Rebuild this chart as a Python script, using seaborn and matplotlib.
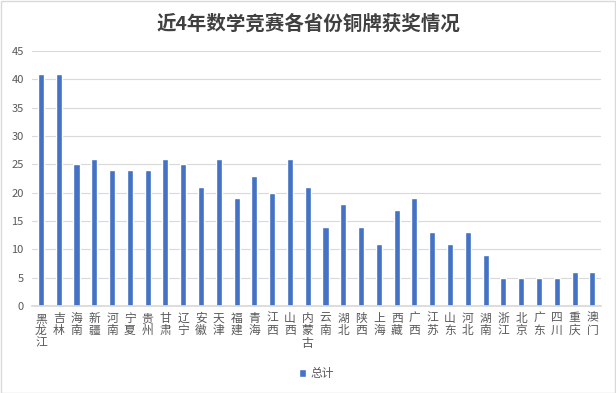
import matplotlib
matplotlib.use("Agg")
import matplotlib.pyplot as plt
import seaborn as sns
import pandas as pd

provinces = ["黑龙江", "吉林", "海南", "新疆", "河南", "宁夏", "贵州", "甘肃", "辽宁", "安徽",
             "天津", "福建", "青海", "江西", "山西", "内蒙古", "云南", "湖北", "陕西", "上海",
             "西藏", "广西", "江苏", "山东", "河北", "湖南", "浙江", "北京", "广东", "四川",
             "重庆", "澳门"]
totals = [41, 41, 25, 26, 24, 24, 24, 26, 25, 21,
          26, 19, 23, 20, 26, 21, 14, 18, 14, 11,
          17, 19, 13, 11, 13, 9, 5, 5, 5, 5,
          6, 6]
series_name = "总计"
title = "近4年数学竞赛各省份铜牌获奖情况"

sns.set_theme(style="white")
plt.rcParams["font.family"] = ["Noto Sans CJK SC", "DejaVu Sans"]

df = pd.DataFrame({"省份": provinces, "数量": totals})

fig = plt.figure(figsize=(6.16, 3.93), dpi=100)
ax = fig.add_axes([0.052, 0.221, 0.924, 0.649])

sns.barplot(data=df, x="省份", y="数量", color="#4472C4", width=0.34,
            saturation=1, ax=ax, label=series_name)

ax.set_ylim(0, 45)
ax.set_yticks(range(0, 46, 5))
ax.set_xlim(-0.5, len(provinces) - 0.5)
ax.yaxis.grid(True, color="#d9d9d9", linewidth=0.8)
ax.set_axisbelow(True)
for s in ["top", "right", "left"]:
    ax.spines[s].set_visible(False)
ax.spines["bottom"].set_color("#d9d9d9")
ax.set_xlabel("")
ax.set_ylabel("")
ax.tick_params(axis="y", length=0, labelsize=8, labelcolor="#595959", pad=6)
ax.tick_params(axis="x", length=0, pad=4)
ax.set_xticks(range(len(provinces)))
ax.set_xticklabels(["\n".join(p) for p in provinces], fontsize=8.5,
                   color="#595959", va="top", linespacing=0.95)

fig.suptitle(title, y=0.965, fontsize=14, fontweight="bold", color="#404040")

leg = ax.legend(loc="center", bbox_to_anchor=(0.5, -0.265), frameon=False,
                fontsize=8.5, handlelength=0.6, handleheight=0.6, handletextpad=0.4)
for t in leg.get_texts():
    t.set_color("#595959")

fig.patches.append(plt.Rectangle((0.001, 0.001), 0.997, 0.997, transform=fig.transFigure,
                                 fill=False, edgecolor="#d9d9d9", linewidth=1))

fig.savefig("out.png", dpi=100)
